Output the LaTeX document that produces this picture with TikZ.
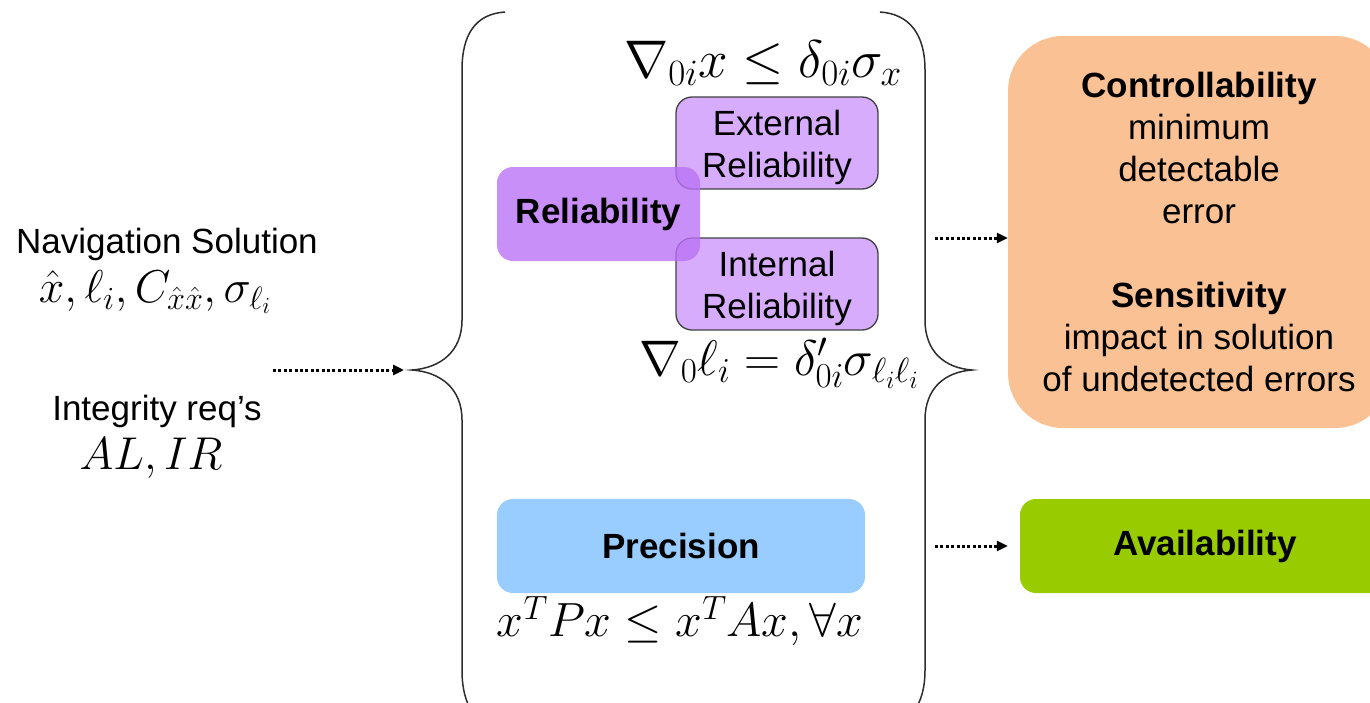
\RequirePackage{fix-cm}
\documentclass[tikz,border=0pt]{standalone}
\usepackage[no-math]{fontspec}
\setmainfont{Liberation Sans}
\usetikzlibrary{arrows.meta}
\definecolor{relc}{RGB}{185,115,245}
\definecolor{subc}{RGB}{216,172,252}
\definecolor{precc}{RGB}{153,204,255}
\definecolor{ctrlc}{RGB}{250,194,148}
\definecolor{availc}{RGB}{153,204,0}
\definecolor{bracec}{RGB}{45,45,45}
\begin{document}
\begin{tikzpicture}[x=1pt,y=-1pt,
  txt/.style={font=\fontsize{35}{42}\selectfont, align=center, inner sep=0pt},
  mth/.style={font=\fontsize{46}{52}\selectfont, inner sep=0pt},
  box/.style={rounded corners=16pt, inner sep=0pt, align=center, font=\fontsize{35}{42}\selectfont},
  subbox/.style={box, fill=subc, draw=black!75, line width=1.3pt, minimum width=202pt, minimum height=92pt},
  bracestyle/.style={draw=bracec, line width=1.5pt},
  flow/.style={line width=3pt, dash pattern=on 3pt off 2.4pt, -{Triangle[length=11pt,width=10pt]}}
]
\useasboundingbox (0,0) rectangle (1370,702);
\clip (0,0) rectangle (1370,702);

% braces
\draw[bracestyle] (505,12) .. controls (475,14) and (462,35) .. (462,70) -- (462,320)
  .. controls (462,352) and (440,368) .. (412,370)
  .. controls (440,372) and (462,388) .. (462,420) -- (462,670)
  .. controls (462,705) and (475,726) .. (505,728);
\draw[bracestyle] (880,12) .. controls (910,14) and (925,35) .. (925,70) -- (925,320)
  .. controls (925,352) and (945,368) .. (972,370)
  .. controls (945,372) and (925,388) .. (925,420) -- (925,670)
  .. controls (925,705) and (910,726) .. (880,728);
\coordinate (btip) at (404,370);

% left inputs
\node[txt] (nav) at (167,244) {Navigation Solution};
\node[mth] (navf) at (155,292) {$\hat{x},\ell_i,C_{\hat{x}\hat{x}},\sigma_{\ell_i}$};
\node[txt] (integ) at (157,411) {Integrity req's};
\node[mth] (integf) at (151,458) {$AL,IR$};
\coordinate (instart) at (273,370);
\draw[flow] (instart) -- (btip);

% reliability group
\node[subbox] (ext) at (777,143) {\rule{0pt}{34pt}External\\Reliability};
\node[subbox] (int) at (777,284) {\rule{0pt}{34pt}Internal\\Reliability};
\node[box, fill=relc, fill opacity=0.8, text opacity=1, minimum width=203pt, minimum height=94pt] (rel) at (598.5,214) {\textbf{Reliability}};
\node[mth, font=\fontsize{53}{60}\selectfont] (extf) at (763,63) {$\nabla_{0i}x\le\delta_{0i}\sigma_x$};
\node[mth, font=\fontsize{50}{56}\selectfont] (intf) at (779,363) {$\nabla_{0}\ell_i=\delta'_{0i}\sigma_{\ell_i\ell_i}$};

% precision
\node[box, fill=precc, minimum width=368pt, minimum height=94pt] (prec) at (681,546) {\textbf{Precision}};
\node[mth, font=\fontsize{48}{54}\selectfont] (precf) at (680,621) {$x^TPx\le x^TAx,\forall x$};

% outputs
\node[box, fill=ctrlc, rounded corners=55pt, minimum width=382pt, minimum height=392pt] (ctrl) at (1199,232)
  {\textbf{Controllability}\\minimum\\detectable\\error\\[42pt]\textbf{Sensitivity}\\impact in solution\\of undetected errors};
\node[box, fill=availc, minimum width=370pt, minimum height=94pt] (avail) at (1205,546) {\textbf{Availability}};

\coordinate (o1) at (935,238);
\coordinate (o2) at (935,546);
\draw[flow] (o1) -- (ctrl.west |- o1);
\draw[flow] (o2) -- ([xshift=-12pt]avail.west |- o2);
\end{tikzpicture}
\end{document}
